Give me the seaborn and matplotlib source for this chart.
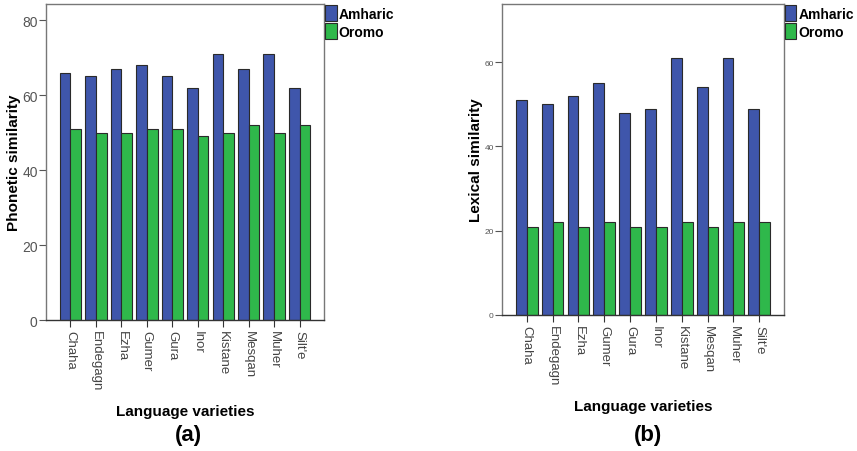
import pandas as pd
import matplotlib
matplotlib.use("Agg")
import matplotlib.pyplot as plt
import seaborn as sns

# valorile
varieties = ["Chaha", "Endegagn", "Ezha", "Gumer", "Gura", "Inor", "Kistane", "Mesqan", "Muher", "Silt'e"]
languages = ["Amharic", "Oromo"]
phonetic_amharic = [66, 65, 67, 68, 65, 62, 71, 67, 71, 62]
phonetic_oromo = [51, 50, 50, 51, 51, 49, 50, 52, 50, 52]
lexical_amharic = [51, 50, 52, 55, 48, 49, 61, 54, 61, 49]
lexical_oromo = [21, 22, 21, 22, 21, 21, 22, 21, 22, 22]
phonetic_ticks = [0, 20, 40, 60, 80]
lexical_ticks = [0, 20, 40, 60]

culori = {"Amharic": "#3f56ab", "Oromo": "#2fb84b"}


def tabel(amharic, oromo):
    return pd.DataFrame({
        "variety": varieties * 2,
        "language": ["Amharic"] * len(varieties) + ["Oromo"] * len(varieties),
        "value": amharic + oromo,
    })


sns.set_style("white")
plt.rcParams["font.family"] = ["Liberation Sans", "DejaVu Sans"]
plt.rcParams["text.color"] = "black"
plt.rcParams["axes.labelcolor"] = "black"

fig = plt.figure(figsize=(8.57, 4.52), dpi=100)
ax_a = fig.add_axes([0.0537, 0.2898, 0.3244, 0.699])
ax_b = fig.add_axes([0.5858, 0.3009, 0.329, 0.688])


def deseneaza(ax, df, ticks, ymax, ylabel, ytick_size, ypad):
    sns.barplot(data=df, x="variety", y="value", hue="language", hue_order=languages,
                palette=culori, width=0.84, edgecolor="#2a2a2a", linewidth=0.8,
                saturation=1, ax=ax)
    ax.set_ylim(0, ymax)
    ax.set_xlim(-0.96, len(varieties) - 0.04)
    ax.set_yticks(ticks)
    ax.set_yticklabels([str(t) for t in ticks], color="#555555", fontsize=ytick_size)
    ax.set_xticks(range(len(varieties)))
    ax.set_xticklabels(varieties, rotation=-90, color="#444444", fontsize=9.5)
    ax.tick_params(axis="x", bottom=True, direction="out", length=5, width=0.8,
                   color="#333333", pad=2)
    ax.tick_params(axis="y", left=True, direction="out", length=5, width=0.8,
                   color="#555555", pad=1)
    for s in ax.spines.values():
        s.set_color("#777777")
        s.set_linewidth(1)
    ax.spines["bottom"].set_color("#333333")
    ax.set_xlabel("Language varieties", fontsize=11, fontweight="bold", labelpad=10)
    ax.set_ylabel(ylabel, fontsize=11, fontweight="bold", labelpad=ypad)
    sns.move_legend(ax, "upper left", bbox_to_anchor=(1.0, 1.0), title=None,
                    frameon=False, fontsize=10, handlelength=0.8, handleheight=1.3,
                    handletextpad=0.15, labelspacing=0.2, borderaxespad=0.1,
                    borderpad=0.0)
    for t in ax.get_legend().get_texts():
        t.set_fontweight("bold")
        t.set_color("black")


deseneaza(ax_a, tabel(phonetic_amharic, phonetic_oromo), phonetic_ticks, 84.3,
          "Phonetic similarity", 10, 1)
deseneaza(ax_b, tabel(lexical_amharic, lexical_oromo), lexical_ticks, 73.8,
          "Lexical similarity", 6, 1)

fig.text(0.22, 0.025, "(a)", fontsize=16, fontweight="bold", ha="center")
fig.text(0.756, 0.025, "(b)", fontsize=16, fontweight="bold", ha="center")

fig.savefig("out.png", dpi=100)
